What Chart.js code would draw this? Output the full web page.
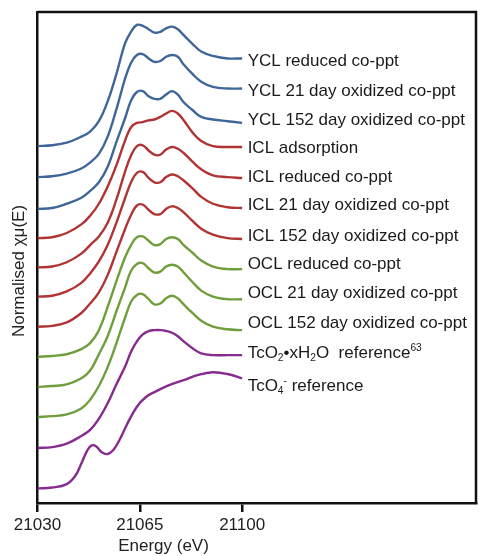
<!DOCTYPE html>
<html>
<head>
<meta charset="utf-8">
<script src="https://cdn.jsdelivr.net/npm/chart.js@4.4.1/dist/chart.umd.min.js"></script>
<style>
  html, body { margin: 0; padding: 0; background: #fff; }
  #wrap { width: 480px; height: 556px; position: relative; }
</style>
</head>
<body>
<div id="wrap"><canvas id="myChart"></canvas></div>
<script>
// energy grid (eV) shared by the co-ppt / adsorption / TcO2 spectra
const energy = [21030, 21035, 21040, 21045, 21048, 21051, 21054, 21057, 21060, 21062, 21064, 21066,
                21068, 21070, 21072, 21074, 21076, 21078, 21080, 21083, 21086, 21090, 21095, 21100];
// pertechnetate has its own grid (pre-edge peak)
const energyTcO4 = [21030, 21035, 21040, 21043, 21045, 21047, 21048.5, 21050, 21052, 21054, 21056,
                    21058, 21061, 21064, 21067, 21070, 21075, 21080, 21085, 21090, 21095, 21100];
const energyTicks = [21030, 21065, 21100];

// normalised spectra
const yclReduced = [0, 0.01, 0.04, 0.11, 0.17, 0.29, 0.52, 0.84, 1.20, 1.33, 1.41, 1.40, 1.36, 1.32, 1.33, 1.37, 1.39, 1.36, 1.29, 1.19, 1.10, 1.05, 1.02, 1.02];
const ycl21 = [0, 0.01, 0.04, 0.10, 0.17, 0.27, 0.47, 0.79, 1.15, 1.33, 1.42, 1.43, 1.38, 1.34, 1.35, 1.40, 1.42, 1.40, 1.31, 1.20, 1.11, 1.05, 1.03, 1.03];
const ycl152 = [0, 0.01, 0.06, 0.13, 0.21, 0.31, 0.49, 0.78, 1.06, 1.26, 1.36, 1.37, 1.31, 1.28, 1.28, 1.33, 1.37, 1.33, 1.24, 1.15, 1.07, 1.04, 1.02, 1.00];
const iclAdsorption = [0, 0.01, 0.06, 0.16, 0.26, 0.40, 0.60, 0.85, 1.14, 1.29, 1.34, 1.35, 1.37, 1.38, 1.41, 1.45, 1.48, 1.45, 1.37, 1.23, 1.13, 1.07, 1.06, 1.06];
const iclReduced = [0, 0.01, 0.06, 0.16, 0.26, 0.36, 0.52, 0.79, 1.12, 1.30, 1.41, 1.42, 1.36, 1.31, 1.31, 1.37, 1.40, 1.38, 1.33, 1.23, 1.14, 1.07, 1.05, 1.04];
const icl21 = [0, 0.01, 0.06, 0.16, 0.27, 0.41, 0.60, 0.86, 1.15, 1.33, 1.44, 1.45, 1.38, 1.33, 1.33, 1.39, 1.42, 1.40, 1.35, 1.26, 1.16, 1.08, 1.04, 1.03];
const icl152 = [0, 0.01, 0.05, 0.16, 0.27, 0.40, 0.60, 0.87, 1.14, 1.30, 1.41, 1.42, 1.36, 1.31, 1.31, 1.37, 1.40, 1.38, 1.33, 1.23, 1.14, 1.07, 1.03, 1.02];
const oclReduced = [0, 0.01, 0.03, 0.09, 0.16, 0.31, 0.58, 0.88, 1.16, 1.30, 1.39, 1.40, 1.35, 1.30, 1.31, 1.37, 1.39, 1.37, 1.30, 1.21, 1.12, 1.05, 1.02, 1.02];
const ocl21 = [0, 0.01, 0.03, 0.10, 0.19, 0.38, 0.59, 0.88, 1.16, 1.35, 1.43, 1.44, 1.38, 1.33, 1.34, 1.40, 1.42, 1.40, 1.33, 1.22, 1.12, 1.05, 1.02, 1.02];
const ocl152 = [0, 0.01, 0.03, 0.10, 0.20, 0.36, 0.58, 0.86, 1.16, 1.34, 1.42, 1.43, 1.37, 1.31, 1.32, 1.38, 1.41, 1.38, 1.31, 1.21, 1.12, 1.05, 1.02, 1.01];
const tcO2 = [0, 0.01, 0.05, 0.14, 0.21, 0.34, 0.52, 0.74, 0.95, 1.12, 1.24, 1.32, 1.36, 1.37, 1.37, 1.36, 1.34, 1.30, 1.24, 1.16, 1.10, 1.08, 1.08, 1.08];
const tcO4 = [0, 0.01, 0.05, 0.15, 0.29, 0.44, 0.50, 0.49, 0.42, 0.40, 0.45, 0.56, 0.77, 0.95, 1.06, 1.12, 1.20, 1.26, 1.32, 1.35, 1.33, 1.28];

// vertical stacking offsets (top to bottom)
const offsets = [4.15, 3.79, 3.42, 3.08, 2.74, 2.40, 2.05, 1.70, 1.35, 1.00, 0.64, 0.17];

const labels = [
  "YCL reduced co-ppt", "YCL 21 day oxidized co-ppt", "YCL 152 day oxidized co-ppt",
  "ICL adsorption", "ICL reduced co-ppt", "ICL 21 day oxidized co-ppt", "ICL 152 day oxidized co-ppt",
  "OCL reduced co-ppt", "OCL 21 day oxidized co-ppt", "OCL 152 day oxidized co-ppt",
  "TcO_2•xH_2O  reference^63", "TcO_4^- reference"
];
const spectra = [yclReduced, ycl21, ycl152, iclAdsorption, iclReduced, icl21, icl152,
                 oclReduced, ocl21, ocl152, tcO2, tcO4];

const BLUE = "#3f6699", RED = "#b03434", GREEN = "#6f9e3c", PURPLE = "#862b90";
const colors = [BLUE, BLUE, BLUE, RED, RED, RED, RED, GREEN, GREEN, GREEN, PURPLE, PURPLE];

// label nudges (px) relative to end of each line
const labelNudge = [2.7, 2.7, -3, 1.5, -0.7, -2.3, -3, -4.5, -5.5, -7, -1.3, 8.4];

const FONT = "'Liberation Sans', Arial, sans-serif";
Chart.defaults.font.family = FONT;
Chart.defaults.color = "#222";

const datasets = spectra.map((s, i) => {
  const xs = i === 11 ? energyTcO4 : energy;
  return {
    label: labels[i],
    data: s.map((v, j) => ({ x: xs[j], y: v + offsets[i] })),
    borderColor: colors[i],
    borderWidth: 2.4,
    pointRadius: 0,
    fill: false,
    tension: 0.4
  };
});

// draw "TcO_2" style text with sub/superscripts
function drawRich(ctx, text, x, y, size) {
  const parts = text.split(/([_^][0-9\-]+)/).filter(p => p.length);
  let cx = x;
  parts.forEach(p => {
    let dy = 0, fs = size, t = p;
    if (p[0] === "_") { t = p.slice(1); fs = size * 0.6; dy = 4; }
    else if (p[0] === "^") { t = p.slice(1); fs = size * 0.6; dy = -6; }
    ctx.font = fs + "px " + FONT;
    ctx.fillText(t, cx, y + dy);
    cx += ctx.measureText(t).width;
  });
}

const decor = {
  id: "decor",
  afterDraw(chart) {
    const { ctx, chartArea: a } = chart;
    ctx.save();
    // top and right frame
    ctx.strokeStyle = "#111";
    ctx.lineWidth = 2.5;
    ctx.beginPath();
    ctx.moveTo(a.left, a.top);
    ctx.lineTo(a.right, a.top);
    ctx.lineTo(a.right, a.bottom);
    ctx.stroke();

    // series labels at line ends
    ctx.fillStyle = "#1a1a1a";
    ctx.textBaseline = "middle";
    ctx.textAlign = "left";
    chart.data.datasets.forEach((ds, i) => {
      const pts = chart.getDatasetMeta(i).data;
      const last = pts[pts.length - 1];
      drawRich(ctx, ds.label, last.x + 5.5, last.y + labelNudge[i], 17);
    });

    // axis titles
    ctx.font = "17px " + FONT;
    ctx.fillStyle = "#222";
    ctx.textAlign = "center";
    ctx.fillText("Energy (eV)", a.left + 126, 546);
    ctx.translate(19.5, 271);
    ctx.rotate(-Math.PI / 2);
    ctx.fillText("Normalised χμ(E)", 0, 0);
    ctx.restore();
  }
};

const config = {
  type: "line",
  data: { datasets },
  options: {
    responsive: true,
    maintainAspectRatio: false,
    animation: false,
    layout: { padding: { top: 12, right: 4, left: 0, bottom: 0 } },
    plugins: { legend: { display: false }, tooltip: { enabled: false } },
    scales: {
      x: {
        type: "linear",
        min: 21030,
        max: 21180,
        afterFit: (s) => { s.height = 53; },
        afterBuildTicks: (s) => { s.ticks = energyTicks.map(v => ({ value: v })); },
        ticks: {
          padding: 3,
          color: "#222",
          font: { size: 17 },
          autoSkip: false,
          callback: (v) => String(v)
        },
        grid: { display: true, drawOnChartArea: false, drawTicks: true, tickLength: 9, color: "#111", lineWidth: 2.5 },
        border: { display: true, color: "#111", width: 2.5 }
      },
      y: {
        type: "linear",
        min: 0,
        max: 5.71,
        afterFit: (s) => { s.width = 37.5; },
        ticks: { display: false },
        grid: { display: false },
        border: { display: true, color: "#111", width: 2.5 }
      }
    }
  },
  plugins: [decor]
};

const myChart = new Chart(document.getElementById("myChart"), config);
</script>
</body>
</html>
